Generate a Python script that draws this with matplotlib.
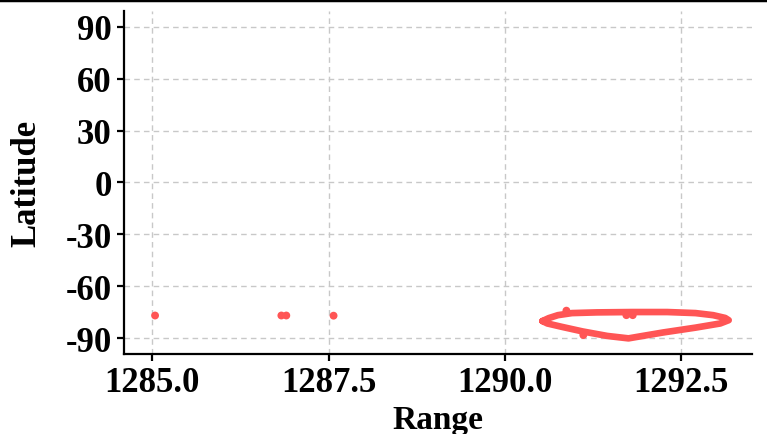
import matplotlib
matplotlib.use("Agg")
import matplotlib.pyplot as plt
from matplotlib.lines import Line2D

# ground track near the pole (Range, Latitude)
loop_range = [1290.53, 1290.62, 1290.75, 1290.95, 1291.3, 1291.8, 1292.3, 1292.7,
              1292.95, 1293.12, 1293.17, 1293.05, 1292.7, 1292.24, 1291.95, 1291.75,
              1291.45, 1291.1, 1290.8, 1290.6, 1290.53]
loop_lat = [-80.0, -78.3, -76.6, -75.4, -75.0, -74.8, -74.8, -75.4,
            -76.6, -78.2, -79.5, -81.4, -83.8, -86.6, -88.6, -90.0,
            -88.6, -86.0, -83.3, -81.4, -80.0]

# separate scattered samples
pt_range = [1285.04, 1286.83, 1286.90, 1287.57, 1290.87, 1291.72, 1291.81, 1291.11]
pt_lat = [-76.8, -76.8, -76.8, -76.9, -74.0, -76.6, -76.6, -88.1]

red = "#ff5555"

plt.rcParams["font.family"] = ["Liberation Serif", "DejaVu Serif"]
plt.rcParams["font.weight"] = "bold"
plt.rcParams["axes.unicode_minus"] = False

fig = plt.figure(figsize=(7.67, 4.35), dpi=100)
ax = fig.add_axes([0.1617, 0.184, 0.8187, 0.7884])

ax.plot(loop_range, loop_lat, color=red, lw=4.8, solid_capstyle="round",
        solid_joinstyle="round", zorder=3)
ax.scatter(pt_range, pt_lat, s=32, color=red, edgecolors="none", zorder=4)

ax.set_xlim(1284.6, 1293.5)
ax.set_ylim(-99, 99)
ax.set_xticks([1285.0, 1287.5, 1290.0, 1292.5])
ax.set_xticklabels(["1285.0", "1287.5", "1290.0", "1292.5"])
ax.set_yticks([90, 60, 30, 0, -30, -60, -90])

ax.grid(True, ls=(0, (4, 3)), color="#c8c8c8", lw=1.0)
ax.set_axisbelow(True)
for s in ["top", "right"]:
    ax.spines[s].set_visible(False)
for s in ["left", "bottom"]:
    ax.spines[s].set_linewidth(1.6)
ax.tick_params(labelsize=25, length=5, width=1.6, pad=4)
for lab in ax.get_xticklabels() + ax.get_yticklabels():
    lab.set_fontweight("bold")

ax.set_xlabel("Range", fontsize=24, fontweight="bold", labelpad=3)
ax.set_ylabel("Latitude", fontsize=25, fontweight="bold", labelpad=16)

# frame edge visible at the top of the picture
fig.add_artist(Line2D([0, 1], [0.997, 0.997], transform=fig.transFigure,
                      color="black", lw=2.5))

fig.savefig("out.png", dpi=100)
